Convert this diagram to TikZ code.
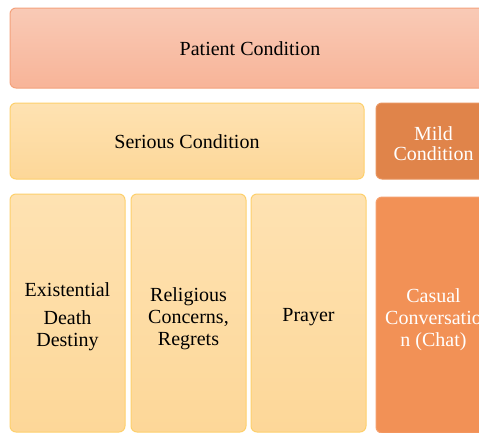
\documentclass[tikz,border=0pt]{standalone}
\usepackage{fontspec}
\setmainfont{Liberation Serif}
\usepackage{tikz}
\usetikzlibrary{positioning}

\definecolor{PeachTop}{HTML}{F9CAB6}
\definecolor{PeachBot}{HTML}{F8B498}
\definecolor{PeachLine}{HTML}{F4A27C}
\definecolor{SandTop}{HTML}{FEE2B2}
\definecolor{SandBot}{HTML}{FDD798}
\definecolor{SandLine}{HTML}{FDD06C}
\definecolor{RustFill}{HTML}{E0844A}
\definecolor{RustLine}{HTML}{E8945E}
\definecolor{TangFill}{HTML}{F29156}
\definecolor{TangLine}{HTML}{F5A06E}

\begin{document}
\begin{tikzpicture}[
  x=1pt, y=1pt,
  cellbox/.style={rounded corners=6pt, line width=1pt, inner sep=0pt},
  cellfont/.style={align=center, inner sep=0pt, font=\fontsize{20}{22}\selectfont},
  headbox/.style={cellbox, draw=PeachLine, top color=PeachTop, bottom color=PeachBot},
  sandbox/.style={cellbox, draw=SandLine, top color=SandTop, bottom color=SandBot},
  mildbox/.style={cellbox, draw=RustLine, fill=RustFill},
  chatbox/.style={cellbox, draw=TangLine, fill=TangFill},
]

\clip (0,0) rectangle (479,-432);

% top level
\node[headbox, minimum width=480pt, minimum height=80pt] (patient) at (250,-48) {};

% second level
\node[sandbox, minimum width=354pt, minimum height=76pt,
  below=14pt of patient.south west, anchor=north west] (serious) {};
\node[mildbox, minimum width=115pt, minimum height=76pt,
  right=11pt of serious.north east, anchor=north west] (mild) {};

% topics under each condition
\node[sandbox, minimum width=115pt, minimum height=238pt,
  below=14pt of serious.south west, anchor=north west] (existential) {};
\node[sandbox, minimum width=115pt, minimum height=238pt, right=5pt of existential] (religious) {};
\node[sandbox, minimum width=115pt, minimum height=238pt, right=4pt of religious] (prayer) {};
\node[chatbox, minimum width=115pt, minimum height=236pt,
  below=17pt of mild.south west, anchor=north west] (casual) {};

% labels, set a little below each box centre
\node[cellfont] (patient-text) at ([yshift=-1pt]patient.center) {Patient Condition};
\node[cellfont] (serious-text) at ([yshift=-1pt]serious.center) {Serious Condition};
\node[cellfont, white] (mild-text) at ([yshift=-3pt]mild.center) {Mild\\[-2pt]Condition};
\node[cellfont] (existential-text) at ([yshift=-4pt]existential.center) {Existential\\[6pt]Death\\Destiny};
\node[cellfont] (religious-text) at ([yshift=-6pt]religious.center) {Religious\\Concerns,\\Regrets};
\node[cellfont] (prayer-text) at ([yshift=-4pt]prayer.center) {Prayer};
\node[cellfont, white] (casual-text) at ([yshift=-5pt]casual.center) {Casual\\Conversatio\\n (Chat)};

\end{tikzpicture}
\end{document}
